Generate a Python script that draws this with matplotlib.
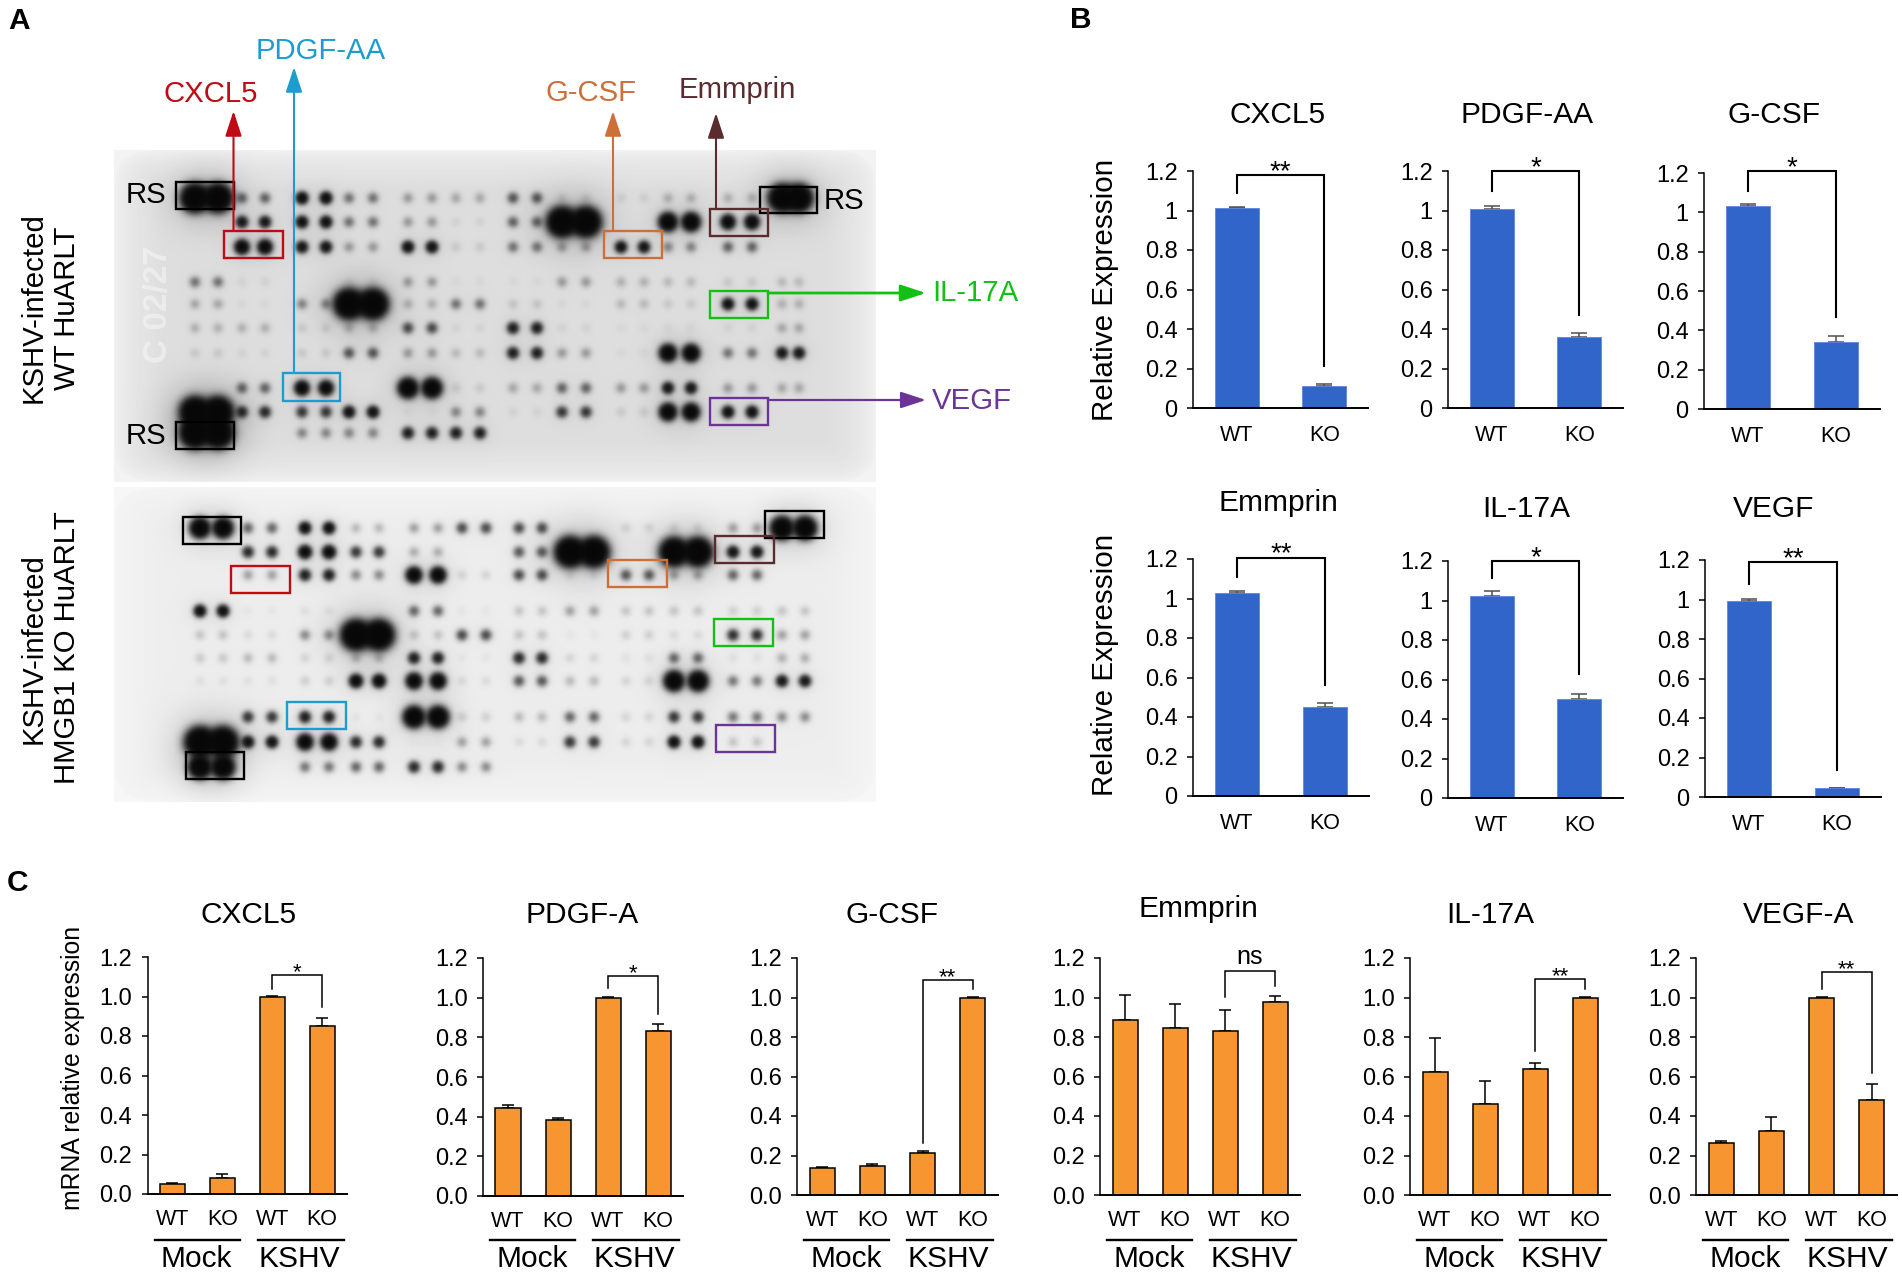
import numpy as np
import matplotlib
matplotlib.use("Agg")
import matplotlib.pyplot as plt
from matplotlib.patches import Rectangle

plt.rcParams['font.family'] = ['Liberation Sans', 'DejaVu Sans']

W, H = 1902, 1275

# ---------- data: protein array spot intensities (rows x spot pairs) ----------
blot_wt = [
    [2.2, .30, 1.0, .25, .15, .12, .35, .05, .04, .10, .10, 2.1],
    [0.0, .80, .95, .25, .15, .03, .30, 2.3, .00, 1.5, 1.2, .00],
    [0.0, 1.2, .85, .15, .90, .05, .25, .15, .85, .20, .30, .00],
    [.25, .03, .00, .03, .15, .02, .02, .15, .10, .08, .05, .08],
    [.12, .02, .20, 2.3, .10, .25, .06, .02, .08, .05, .90, .10],
    [.10, .10, .05, .10, .40, .03, .70, .03, .02, .02, .03, .12],
    [.05, .03, .05, .35, .15, .08, .70, .15, .02, 1.4, .25, .80],
    [0.0, .30, 1.2, .00, 1.6, .05, .12, .30, .15, .80, .15, .12],
    [2.3, .60, .50, .90, .02, .20, .03, .50, .05, 1.4, .95, .00],
    [2.3, .00, .20, .20, .70, .70, .00, .00, .00, .00, .00, .00],
]
blot_ko = [
    [1.6, .30, .95, .10, .15, .40, .40, .00, .05, .05, .15, 1.8],
    [0.0, .60, 1.1, .50, .12, .00, .35, 2.3, .00, 2.2, .85, .00],
    [0.0, .15, .70, .20, 1.3, .05, .40, .04, .35, .15, .30, .00],
    [.95, .02, .03, .00, .30, .02, .08, .15, .08, .08, .06, .08],
    [.08, .04, .20, 2.3, .08, .40, .08, .02, .06, .04, .55, .15],
    [.07, .10, .05, .10, .70, .02, .60, .05, .03, .30, .03, .12],
    [.03, .03, .06, 1.1, 1.3, .04, .35, .10, .05, 1.6, .25, .80],
    [0.0, .50, .70, .02, 1.7, .06, .10, .30, .05, .50, .25, .20],
    [2.3, .90, 1.3, .60, .01, .15, .04, .50, .05, .95, .08, .00],
    [1.8, .00, .25, .30, .60, .20, .00, .00, .00, .00, .00, .00],
]

# ---------- data: panel B ----------
b_titles = ['CXCL5', 'PDGF-AA', 'G-CSF', 'Emmprin', 'IL-17A', 'VEGF']
b_groups = ['WT', 'KO']
b_values = [[1.015, .11], [1.01, .36], [1.03, .34], [1.03, .45], [1.025, .50], [.99, .045]]
b_errors = [[.005, .01], [.015, .02], [.01, .03], [.01, .02], [.025, .025], [.015, .002]]
b_stars = ['**', '*', '*', '**', '*', '**']
b_bracket_top = [1.18, 1.20, 1.208, 1.207, 1.20, 1.19]
b_bracket_left = [1.089, 1.10, 1.109, 1.107, 1.112, 1.08]
b_bracket_right = [.213, .473, .47, .562, .627, .138]

# ---------- data: panel C ----------
c_titles = ['CXCL5', 'PDGF-A', 'G-CSF', 'Emmprin', 'IL-17A', 'VEGF-A']
c_groups = ['WT', 'KO', 'WT', 'KO']
c_values = [[.05, .083, 1.0, .852], [.443, .382, 1.0, .83], [.137, .145, .213, 1.0],
            [.888, .845, .832, .975], [.622, .46, .64, 1.0], [.262, .325, 1.0, .48]]
c_errors = [[.007, .017, .002, .04], [.018, .012, .002, .037], [.007, .013, .012, .001],
            [.125, .122, .105, .035], [.175, .118, .03, .002], [.012, .07, .001, .08]]
c_stars = ['*', '*', '**', 'ns', '**', '**']
c_bracket_top = [1.107, 1.109, 1.088, 1.132, 1.094, 1.13]
c_bracket_left = [1.038, 1.048, .265, 1.002, .729, 1.044]
c_bracket_right = [.945, .919, 1.042, 1.06, 1.045, .62]

# ---------- layout (pixels) ----------
b_boxes = [(1193, 1368, 171, 408), (1448, 1623, 171, 408), (1704, 1880, 173, 409),
           (1193, 1369, 559, 796), (1448, 1623, 561, 798), (1705, 1881, 560, 797)]
b_title_pos = [(1278, 123), (1527, 123), (1774, 123), (1278, 511), (1526, 517), (1774, 517)]
c_boxes = [(147.5, 347, 957, 1194), (483, 683, 958, 1196), (797, 998, 958, 1195),
           (1100, 1300, 958, 1195), (1410, 1610, 958, 1195), (1696, 1897, 958, 1195)]
c_title_pos = [(249, 923), (582, 923), (892, 923), (1198, 917), (1490, 923), (1799, 923)]

BLUE = '#3265C9'
ORANGE = '#F79631'
RED, CYAN, BROWNO, BROWN, GREEN, PURPLE = '#C00A14', '#1B9DCE', '#CF6F38', '#5A2C2E', '#14C014', '#6A3596'

fig = plt.figure(figsize=(W / 100, H / 100), dpi=100, facecolor='white')
ov = fig.add_axes([0, 0, 1, 1], zorder=0)
ov.set_xlim(0, W)
ov.set_ylim(H, 0)
ov.axis('off')


def draw_blot(matrix, x0, x1, y0, y1, xs, ys, base_lo, base_hi):
    xx, yy = np.meshgrid(np.arange(x0, x1) + .5, np.arange(y0, y1) + .5)
    ex = np.clip(1 - np.minimum(xx - x0, x1 - xx) / 50.0, 0, None)
    ey = np.clip(1 - np.minimum(yy - y0, y1 - yy) / 40.0, 0, None)
    edge = np.clip(1 - (ex ** 3 + ey ** 3) ** (1 / 3), 0, 1)
    bg = base_hi + (base_lo - base_hi) * edge ** .5
    D = np.zeros_like(xx)
    for r, row in enumerate(matrix):
        for c, v in enumerate(row):
            if v <= 0:
                continue
            s = 3.6 + 3.0 * max(v - 1, 0)
            for k in (0, 1):
                d2 = (xx - xs[2 * c + k]) ** 2 + (yy - ys[r]) ** 2
                D += 3.2 * v ** 1.15 * np.exp(-d2 / (2 * s ** 2))
                D += .05 * v * np.exp(-d2 / (2 * (3 * s) ** 2))
    img = np.clip(bg * np.exp(-D) + .03, 0, 1)
    ov.imshow(img, cmap='gray', vmin=0, vmax=1, extent=(x0, x1, y1, y0), aspect='auto',
              interpolation='bilinear', zorder=1)


wt_x = [195, 218, 242, 265, 302, 326, 349, 373, 408, 432, 456, 480, 513, 537, 562, 586, 621, 644, 668, 691, 728, 752, 782, 799]
wt_y = [198, 222, 247, 282, 304, 328, 353, 388, 412, 433]
ko_x = [200, 223, 248, 272, 305, 329, 356, 379, 414, 438, 462, 486, 519, 542, 570, 594, 626, 649, 674, 698, 733, 757, 782, 805]
ko_y = [528, 552, 575, 611, 635, 658, 681, 717, 742, 767]
draw_blot(blot_wt, 114, 876, 150, 482, wt_x, wt_y, .84, .925)
draw_blot(blot_ko, 114, 876, 487, 802, ko_x, ko_y, .90, .935)
ov.set_xlim(0, W)
ov.set_ylim(H, 0)
ov.text(158, 305, 'C 02/27', rotation=90, color='white', alpha=.4, fontsize=24, fontweight='bold',
        ha='center', va='center', zorder=2)

rects = [
    (176, 182, 58, 27, 'black'), (760, 187, 57, 26, 'black'), (176, 422, 58, 27, 'black'),
    (224, 231, 59, 27, RED), (283, 373, 57, 28, CYAN), (604, 231, 58, 27, BROWNO),
    (710, 209, 58, 27, BROWN), (710, 291, 58, 27, GREEN), (710, 398, 58, 27, PURPLE),
    (183, 517, 58, 27, 'black'), (765, 511, 59, 27, 'black'), (186, 752, 58, 27, 'black'),
    (231, 566, 59, 27, RED), (287, 702, 59, 27, CYAN), (608, 560, 59, 27, BROWNO),
    (715, 536, 59, 27, BROWN), (714, 619, 59, 27, GREEN), (716, 725, 59, 27, PURPLE),
]
for x, y, w, h, col in rects:
    ov.add_patch(Rectangle((x, y), w, h, fill=False, ec=col, lw=1.7, zorder=3))

arrows = [
    (233.5, 231, 233.5, 111, RED, 1.5), (294, 373, 294, 67, CYAN, 1.5),
    (613, 231, 613, 111, BROWNO, 1.5), (716, 209, 716, 113, BROWN, 1.5),
    (768, 293, 926, 293, GREEN, 2.0), (768, 400, 926, 400, PURPLE, 1.6),
]
for x0, y0, x1, y1, col, lw in arrows:
    ov.annotate('', xy=(x1, y1), xytext=(x0, y0), zorder=4,
                arrowprops=dict(arrowstyle='-|>,head_length=1.1,head_width=.36', color=col, lw=lw,
                                shrinkA=0, shrinkB=0, mutation_scale=14))

labels = [
    ('CXCL5', 211, 102, RED, 'center'), ('PDGF-AA', 321, 59, CYAN, 'center'),
    ('G-CSF', 591, 101, BROWNO, 'center'), ('Emmprin', 737, 98, BROWN, 'center'),
    ('IL-17A', 932, 301, GREEN, 'left'), ('VEGF', 932, 409, PURPLE, 'left'),
    ('RS', 146, 203, 'black', 'center'), ('RS', 844, 209, 'black', 'center'), ('RS', 146, 444, 'black', 'center'),
]
for s, x, y, col, ha in labels:
    ov.text(x, y, s, color=col, fontsize=21.2, ha=ha, va='baseline', zorder=5)

for s, x, y in [('KSHV-infected', 34, 308), ('WT HuARLT', 67, 308), ('KSHV-infected', 34, 649), ('HMGB1 KO HuARLT', 67, 648)]:
    ov.text(x, y, s, rotation=90, fontsize=21.2, ha='center', va='center', zorder=5)

for s, x, y in [('A', 19, 29), ('B', 1081, 28), ('C', 17, 891)]:
    ov.text(x, y, s, fontsize=21.5, fontweight='bold', ha='center', va='baseline', zorder=5)

ov.text(1105, 290, 'Relative Expression', rotation=90, fontsize=21.3, ha='center', va='center')
ov.text(1105, 665, 'Relative Expression', rotation=90, fontsize=21.3, ha='center', va='center')
ov.text(73, 1068, 'mRNA relative expression', rotation=90, fontsize=17.8, ha='center', va='center')


def make_axes(box):
    x0, x1, y0, y1 = box
    ax = fig.add_axes([x0 / W, 1 - y1 / H, (x1 - x0) / W, (y1 - y0) / H], zorder=2)
    ax.patch.set_alpha(0)
    ax.spines[['top', 'right']].set_visible(False)
    ax.spines['left'].set_linewidth(1.1)
    ax.spines['bottom'].set_linewidth(1.4)
    ax.set_ylim(0, 1.2)
    ax.set_yticks(np.arange(0, 1.21, .2))
    ax.tick_params(axis='y', length=4.5, width=1.1, pad=6.5)
    ax.tick_params(axis='x', length=0)
    return ax


def bracket(ax, xl, xr, top, left, right, label, size, dy, lw):
    ax.plot([xl, xl, xr, xr], [left, top, top, right], color='black', lw=lw, clip_on=False,
            solid_joinstyle='miter', zorder=5)
    ax.annotate(label, xy=((xl + xr) / 2, top), xytext=(0, dy), textcoords='offset pixels',
                fontsize=size, ha='center', va='baseline', annotation_clip=False)


# ---------- panel B ----------
for i, box in enumerate(b_boxes):
    ax = make_axes(box)
    xpos = np.arange(len(b_groups)) + .5
    ax.bar(xpos, b_values[i], width=.5, color=BLUE, edgecolor='#5C86D8', linewidth=.6, zorder=2)
    ax.errorbar(xpos, b_values[i], yerr=[np.zeros(2), b_errors[i]], fmt='none', ecolor='#505050',
                elinewidth=1.1, capsize=6, capthick=1.1, zorder=1)
    ax.set_xlim(0, 2)
    ax.set_xticks(xpos, b_groups, fontsize=15.5)
    ax.tick_params(axis='x', pad=12.5)
    ax.set_yticklabels(['0', '0.2', '0.4', '0.6', '0.8', '1', '1.2'], fontsize=17)
    bracket(ax, .5, 1.5, b_bracket_top[i], b_bracket_left[i], b_bracket_right[i], b_stars[i], 20, -4, 1.5)
    ov.text(b_title_pos[i][0], b_title_pos[i][1], b_titles[i], fontsize=21.5, ha='center', va='baseline')

# ---------- panel C ----------
for i, box in enumerate(c_boxes):
    ax = make_axes(box)
    xpos = np.arange(len(c_groups)) + .5
    ax.bar(xpos, c_values[i], width=.5, color=ORANGE, edgecolor='black', linewidth=1.1, zorder=2)
    ax.errorbar(xpos, c_values[i], yerr=[np.zeros(4), c_errors[i]], fmt='none', ecolor='black',
                elinewidth=1.1, capsize=4.5, capthick=1.1, zorder=1)
    ax.set_xlim(0, 4)
    ax.set_xticks(xpos, c_groups, fontsize=15.5)
    ax.tick_params(axis='x', pad=11)
    ax.set_yticklabels([f'{v:.1f}' for v in np.arange(0, 1.21, .2)], fontsize=17)
    label = c_stars[i]
    if label == 'ns':
        bracket(ax, 2.5, 3.5, c_bracket_top[i], c_bracket_left[i], c_bracket_right[i], label, 18, 7, 1.1)
    else:
        bracket(ax, 2.5, 3.5, c_bracket_top[i], c_bracket_left[i], c_bracket_right[i], label, 16, -3, 1.1)
    ov.text(c_title_pos[i][0], c_title_pos[i][1], c_titles[i], fontsize=21.5, ha='center', va='baseline')
    x0 = box[0]
    ov.plot([x0 + 7, x0 + 92], [1240, 1240], color='black', lw=1.7)
    ov.plot([x0 + 110, x0 + 196], [1240, 1240], color='black', lw=1.7)
    ov.text(x0 + 49, 1267, 'Mock', fontsize=21.5, ha='center', va='baseline')
    ov.text(x0 + 151.5, 1267, 'KSHV', fontsize=21.5, ha='center', va='baseline')

fig.savefig('out.png', dpi=100, facecolor='white')
